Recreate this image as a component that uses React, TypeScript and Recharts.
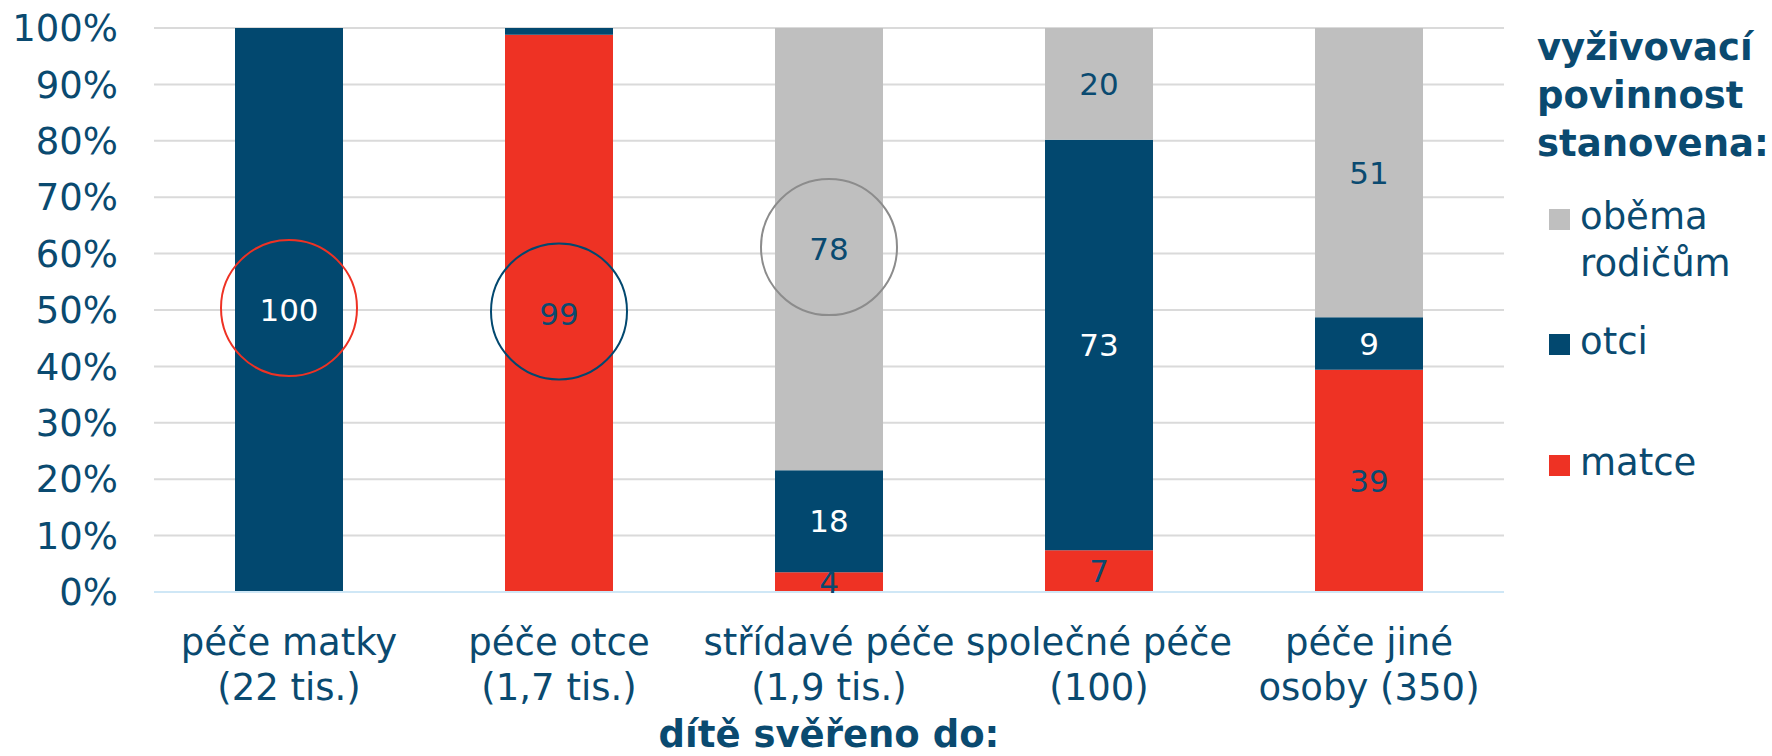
import React from "react";
import { BarChart, Bar, XAxis, YAxis, CartesianGrid, LabelList, Legend } from "recharts";

// ---- data ----
const categories = [
  "péče matky\n(22 tis.)",
  "péče otce\n(1,7 tis.)",
  "střídavé péče\n(1,9 tis.)",
  "společné péče\n(100)",
  "péče jiné\nosoby (350)",
];
const matce = [0, 98.8, 3.5, 7.4, 39.4];
const otci = [100, 1.2, 18.1, 72.8, 9.3];
const obema = [0, 0, 78.4, 19.8, 51.3];
const yTicks = [0, 10, 20, 30, 40, 50, 60, 70, 80, 90, 100];
const seriesNames: Record<string, string> = { matce: "matce", otci: "otci", obema: "oběma rodičům" };
const legendOrder = ["obema", "otci", "matce"];
const highlighted = [
  { category: 0, series: "otci" },
  { category: 1, series: "matce" },
  { category: 2, series: "obema" },
];
const xTitle = "dítě svěřeno do:";
const legendTitle = ["vyživovací", "povinnost", "stanovena:"];

// ---- styles ----
const NAVY = "#02486F";
const RED = "#EE3224";
const GRAY = "#BFBFBF";
const TEXT = "#0A4A70";
const FONT = "'DejaVu Sans', Verdana, sans-serif";
const circleColors = [RED, NAVY, "#8C8C8C"];
const legendGaps = [25, 31, 74];

const seriesValues: Record<string, number[]> = { matce, otci, obema };

const data = categories.map((c, i) => ({
  category: c,
  matce: matce[i],
  otci: otci[i],
  obema: obema[i],
}));

const makeLabel = (seriesKey: string, textColor: string) => (props: any) => {
  const { x, y, width, height, value } = props;
  if (value == null || Math.round(Number(value)) < 2) return null;
  const cx = Number(x) + Number(width) / 2;
  const cy = Number(y) + Number(height) / 2;
  const catIdx = seriesValues[seriesKey].indexOf(Number(value));
  const hIdx = highlighted.findIndex((h) => h.category === catIdx && h.series === seriesKey);
  return (
    <g>
      {hIdx >= 0 && (
        <circle cx={cx} cy={cy - 2} r={68} fill="none" stroke={circleColors[hIdx]} strokeWidth={2} />
      )}
      <text
        x={cx}
        y={cy}
        dy="0.36em"
        textAnchor="middle"
        fill={textColor}
        fontSize={31}
        fontFamily={FONT}
      >
        {Math.round(Number(value))}
      </text>
    </g>
  );
};

const XTick = (props: any) => {
  const { x, y, payload } = props;
  const lines = String(payload.value).split("\n");
  return (
    <text textAnchor="middle" fill={TEXT} fontSize={37} fontFamily={FONT}>
      {lines.map((l, i) => (
        <tspan key={i} x={x} y={y + 63 + i * 45}>
          {l}
        </tspan>
      ))}
    </text>
  );
};

const XTitle = (props: any) => {
  const { viewBox } = props;
  const cx = viewBox.x + viewBox.width / 2;
  return (
    <text x={cx} y={747} textAnchor="middle" fill={TEXT} fontSize={37} fontWeight="bold" fontFamily={FONT}>
      {xTitle}
    </text>
  );
};

const renderLegend = (props: any) => {
  const items = legendOrder
    .map((k) => (props.payload || []).find((p: any) => p.dataKey === k))
    .filter(Boolean);
  return (
    <div style={{ fontFamily: FONT, color: TEXT, fontSize: 37, lineHeight: "47px", textAlign: "left" }}>
      {legendTitle.map((l, i) => (
        <div key={i} style={{ fontWeight: "bold", whiteSpace: "nowrap", lineHeight: "48px" }}>
          {l}
        </div>
      ))}
      {items.map((p: any, i: number) => (
        <div key={i} style={{ position: "relative", paddingLeft: 43, marginTop: legendGaps[i] }}>
          <span
            style={{
              position: "absolute",
              left: 12,
              top: 16,
              width: 21,
              height: 21,
              background: p.color,
            }}
          />
          {p.value}
        </div>
      ))}
    </div>
  );
};

export default function App() {
  return (
    <div style={{ position: "absolute", left: 0, top: 0, width: 1772, height: 756, background: "#fff" }}>
      <BarChart
        width={1772}
        height={756}
        data={data}
        margin={{ top: 28, right: 268, bottom: 0, left: 0 }}
      >
        <CartesianGrid vertical={false} stroke="#DADADA" strokeWidth={2} />
        <XAxis
          dataKey="category"
          height={164}
          tickLine={false}
          tickSize={0}
          tickMargin={0}
          axisLine={{ stroke: "#CFE7F6", strokeWidth: 2 }}
          tick={<XTick />}
          interval={0}
          label={<XTitle />}
        />
        <YAxis
          width={154}
          domain={[0, 100]}
          ticks={yTicks}
          tickFormatter={(v: number) => `${v}%`}
          axisLine={false}
          tickLine={false}
          tickSize={0}
          tickMargin={36}
          tick={{ fill: TEXT, fontSize: 37, fontFamily: FONT }}
          interval={0}
        />
        <Legend
          layout="horizontal"
          align="center"
          verticalAlign="middle"
          content={renderLegend}
          wrapperStyle={{ left: 1537, top: 24, width: 235, height: "auto" }}
        />
        <Bar dataKey="matce" name={seriesNames.matce} stackId="a" fill={RED} barSize={108} isAnimationActive={false}>
          <LabelList dataKey="matce" content={makeLabel("matce", TEXT)} />
        </Bar>
        <Bar dataKey="otci" name={seriesNames.otci} stackId="a" fill={NAVY} barSize={108} isAnimationActive={false}>
          <LabelList dataKey="otci" content={makeLabel("otci", "#FFFFFF")} />
        </Bar>
        <Bar dataKey="obema" name={seriesNames.obema} stackId="a" fill={GRAY} barSize={108} isAnimationActive={false}>
          <LabelList dataKey="obema" content={makeLabel("obema", TEXT)} />
        </Bar>
      </BarChart>
    </div>
  );
}
